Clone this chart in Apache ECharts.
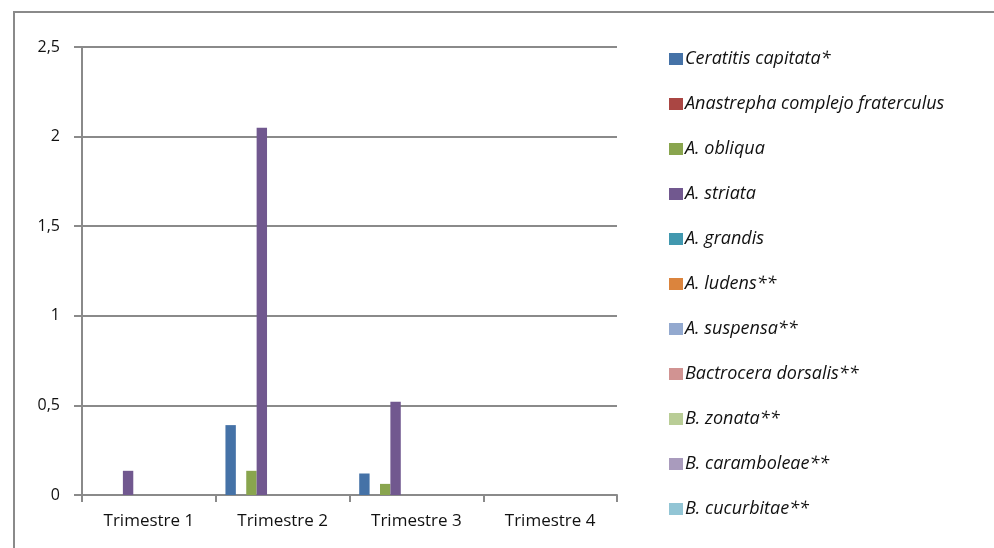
<!DOCTYPE html>
<html>
<head>
<meta charset="utf-8">
<script src="https://cdn.jsdelivr.net/npm/echarts@6/dist/echarts.min.js"></script>
<style>
html,body{margin:0;padding:0;background:#fff;}
#chart{width:994px;height:548px;}
</style>
</head>
<body>
<div id="chart"></div>
<script>
var categories = ['Trimestre 1', 'Trimestre 2', 'Trimestre 3', 'Trimestre 4'];
var seriesNames = ['Ceratitis capitata*', 'Anastrepha complejo fraterculus', 'A. obliqua', 'A. striata', 'A. grandis', 'A. ludens**', 'A. suspensa**', 'Bactrocera dorsalis**', 'B. zonata**', 'B. caramboleae**', 'B. cucurbitae**'];
var ceratitis = [0, 0.39, 0.12, 0];
var fraterculus = [0, 0, 0, 0];
var obliqua = [0, 0.135, 0.062, 0];
var striata = [0.135, 2.05, 0.52, 0];
var grandis = [0, 0, 0, 0];
var ludens = [0, 0, 0, 0];
var suspensa = [0, 0, 0, 0];
var dorsalis = [0, 0, 0, 0];
var zonata = [0, 0, 0, 0];
var caramboleae = [0, 0, 0, 0];
var cucurbitae = [0, 0, 0, 0];
var yTicks = [0, 0.5, 1, 1.5, 2, 2.5];

var seriesData = [ceratitis, fraterculus, obliqua, striata, grandis, ludens, suspensa, dorsalis, zonata, caramboleae, cucurbitae];
var colors = ['#4572A7', '#AA4643', '#89A54E', '#71588F', '#4198AF', '#DB843D', '#93A9CF', '#D19392', '#B9CD96', '#A99BBD', '#92C5D5'];

var chart = echarts.init(document.getElementById('chart'), null, {renderer: 'canvas'});
var gray = '#8a8a8a';
var font = '"Open Sans", Lato, sans-serif';

var series = seriesNames.map(function (n, i) {
  return {
    name: n,
    type: 'bar',
    data: seriesData[i],
    barGap: '0%',
    barCategoryGap: '14.5%',
    itemStyle: {color: colors[i]},
    emphasis: {disabled: true}
  };
});

chart.setOption({
  animation: false,
  color: colors,
  textStyle: {fontFamily: font},
  grid: {left: 82, right: 377, top: 47, bottom: 53, containLabel: false},
  legend: {
    orient: 'vertical',
    left: 669,
    top: 49,
    padding: 0,
    itemWidth: 14,
    itemHeight: 12,
    itemGap: 25,
    icon: 'rect',
    selectedMode: false,
    data: seriesNames,
    textStyle: {fontFamily: font, fontStyle: 'italic', fontSize: 18, color: '#111', padding: [0, 0, 0, -3], lineHeight: 20}
  },
  xAxis: {
    type: 'category',
    data: categories,
    axisLine: {lineStyle: {color: gray, width: 2}},
    axisTick: {show: true, alignWithLabel: false, length: 7, lineStyle: {color: gray, width: 2}},
    axisLabel: {color: '#111', fontSize: 17, margin: 18, fontFamily: font}
  },
  yAxis: {
    type: 'value',
    min: 0,
    max: 2.5,
    interval: 0.5,
    axisLine: {show: true, lineStyle: {color: gray, width: 2}},
    axisTick: {show: true, length: 8, lineStyle: {color: gray, width: 2}},
    splitLine: {show: true, lineStyle: {color: gray, width: 2}},
    axisLabel: {
      color: '#111', fontSize: 16, margin: 22, fontFamily: font,
      formatter: function (v) {
        var idx = yTicks.indexOf(v);
        return String(idx >= 0 ? yTicks[idx] : v).replace('.', ',');
      }
    }
  },
  graphic: [
    {type: 'line', shape: {x1: 13, y1: 12, x2: 994, y2: 12}, style: {stroke: gray, lineWidth: 2}, silent: true},
    {type: 'line', shape: {x1: 14, y1: 12, x2: 14, y2: 548}, style: {stroke: gray, lineWidth: 2}, silent: true}
  ],
  series: series
});
</script>
</body>
</html>
